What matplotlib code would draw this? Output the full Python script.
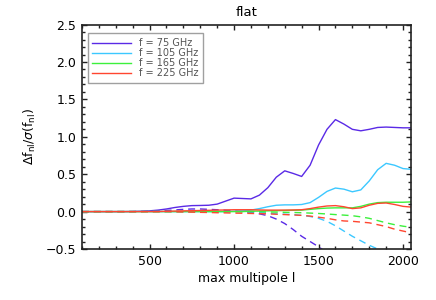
import numpy as np
import matplotlib
matplotlib.use('Agg')
import matplotlib.pyplot as plt

# max multipole l (grid of the read-off points)
lmax = [100, 150, 200, 250, 300, 350, 400, 450, 500, 550,
        600, 650, 700, 750, 800, 850, 900, 950, 1000, 1050,
        1100, 1150, 1200, 1250, 1300, 1350, 1400, 1450, 1500, 1550,
        1600, 1650, 1700, 1750, 1800, 1850, 1900, 1950, 2000, 2050]

freqs = ['75', '105', '165', '225']

# solid curves
f75 = [0, 0, 0, 0, 0, 0, 0.002, 0.005, 0.01, 0.02,
       0.035, 0.055, 0.07, 0.08, 0.082, 0.085, 0.1, 0.14, 0.18, 0.175,
       0.17, 0.22, 0.32, 0.46, 0.545, 0.51, 0.47, 0.62, 0.89, 1.1,
       1.23, 1.17, 1.10, 1.08, 1.1, 1.125, 1.13, 1.125, 1.12, 1.12]
f105 = [0, 0, 0, 0, 0, 0, 0, 0, 0, 0,
        0, 0, 0, 0, 0, 0, 0, 0, 0.005, 0.01,
        0.02, 0.04, 0.065, 0.085, 0.09, 0.09, 0.095, 0.12, 0.19, 0.27,
        0.315, 0.3, 0.265, 0.29, 0.41, 0.56, 0.645, 0.62, 0.575, 0.565]
f165 = [0, 0, 0, 0, 0, 0, 0, 0, 0, 0,
        0, 0, 0, 0, 0, 0, 0, 0, 0, 0,
        0.005, 0.007, 0.01, 0.012, 0.015, 0.018, 0.02, 0.03, 0.04, 0.047,
        0.05, 0.05, 0.05, 0.07, 0.1, 0.12, 0.125, 0.125, 0.125, 0.13]
f225 = [0, 0, 0, 0, 0, 0, 0, 0, 0, 0,
        0.005, 0.007, 0.01, 0.012, 0.015, 0.017, 0.02, 0.022, 0.025, 0.025,
        0.025, 0.022, 0.02, 0.02, 0.02, 0.022, 0.025, 0.04, 0.06, 0.075,
        0.08, 0.065, 0.04, 0.05, 0.085, 0.11, 0.115, 0.095, 0.07, 0.06]

# dashed curves (nan = below the plot)
f75_d = [0, 0, 0, 0, 0, 0, 0, 0.002, 0.005, 0.01,
         0.015, 0.022, 0.03, 0.035, 0.035, 0.03, 0.025, 0.018, 0.01, 0.0,
         -0.01, -0.03, -0.055, -0.1, -0.16, -0.24, -0.33, -0.4, -0.47, -0.55,
         -0.63, np.nan, np.nan, np.nan, np.nan, np.nan, np.nan, np.nan, np.nan, np.nan]
f105_d = [0, 0, 0, 0, 0, 0, 0, 0, 0, 0,
          0, 0, 0, 0, 0, 0, 0, 0, 0, -0.002,
          -0.005, -0.01, -0.02, -0.03, -0.035, -0.04, -0.05, -0.065, -0.09, -0.13,
          -0.19, -0.26, -0.33, -0.39, -0.45, -0.5, -0.56, np.nan, np.nan, np.nan]
f165_d = [0, 0, 0, 0, 0, 0, 0, 0, 0, 0,
          0, 0, 0, 0, 0, 0, 0, 0, 0, 0,
          0, 0, -0.005, -0.007, -0.01, -0.012, -0.015, -0.02, -0.025, -0.032,
          -0.04, -0.047, -0.055, -0.07, -0.09, -0.12, -0.15, -0.175, -0.195, -0.21]
f225_d = [0, 0, 0, 0, 0, 0, 0, 0, 0, 0,
          0, -0.002, -0.005, -0.007, -0.01, -0.012, -0.015, -0.017, -0.02, -0.022,
          -0.025, -0.027, -0.03, -0.035, -0.04, -0.045, -0.05, -0.06, -0.075, -0.09,
          -0.11, -0.125, -0.13, -0.14, -0.15, -0.175, -0.2, -0.235, -0.26, -0.285]

solidas = [f75, f105, f165, f225]
tracejadas = [f75_d, f105_d, f165_d, f225_d]
cores = ['#5a2ae6', '#3cc8ff', '#3cf03c', '#ff4630']

fig = plt.figure(figsize=(4.36, 3.0), dpi=100)
ax = fig.add_axes([0.188, 0.17, 0.755, 0.748])

for freq, sol, tr, cor in zip(freqs, solidas, tracejadas, cores):
    ax.plot(lmax, sol, color=cor, lw=1.0, label='f = ' + freq + ' GHz',
            solid_joinstyle='round')
    ax.plot(lmax, tr, color=cor, lw=1.0, dashes=(5, 3.5))

ax.set_xlim(100, 2048)
ax.set_ylim(-0.5, 2.5)
ax.set_xticks([500, 1000, 1500, 2000])
ax.set_xticks(np.arange(100, 2048, 100), minor=True)
ax.set_yticks([-0.5, 0.0, 0.5, 1.0, 1.5, 2.0, 2.5])
ax.set_yticklabels(['\u22120.5', '0.0', '0.5', '1.0', '1.5', '2.0', '2.5'])
ax.set_yticks(np.arange(-0.5, 2.51, 0.1), minor=True)
ax.tick_params(which='both', direction='in', top=True, right=True,
               labelsize=9, color='#222222', width=1.0, pad=4)
ax.tick_params(which='major', length=3.8)
ax.tick_params(which='minor', length=2.3)
for s in ax.spines.values():
    s.set_linewidth(1.2)
    s.set_color('#222222')

ax.set_title('flat', fontsize=9.5, pad=6)
ax.set_xlabel('max multipole l', fontsize=9, labelpad=3)
ax.set_ylabel(r'$\Delta$f$_{\rm nl}$/$\sigma$(f$_{\rm nl}$)', fontsize=9, labelpad=6)

leg = ax.legend(loc='upper left', bbox_to_anchor=(0.017, 0.961), borderaxespad=0,
                fontsize=7, fancybox=False, handlelength=4.0, handletextpad=0.8,
                labelspacing=0.0, borderpad=0.5, labelcolor='#555555')
leg.get_frame().set_edgecolor('#888888')
leg.get_frame().set_linewidth(1.0)

plt.savefig('out.png', dpi=100)
